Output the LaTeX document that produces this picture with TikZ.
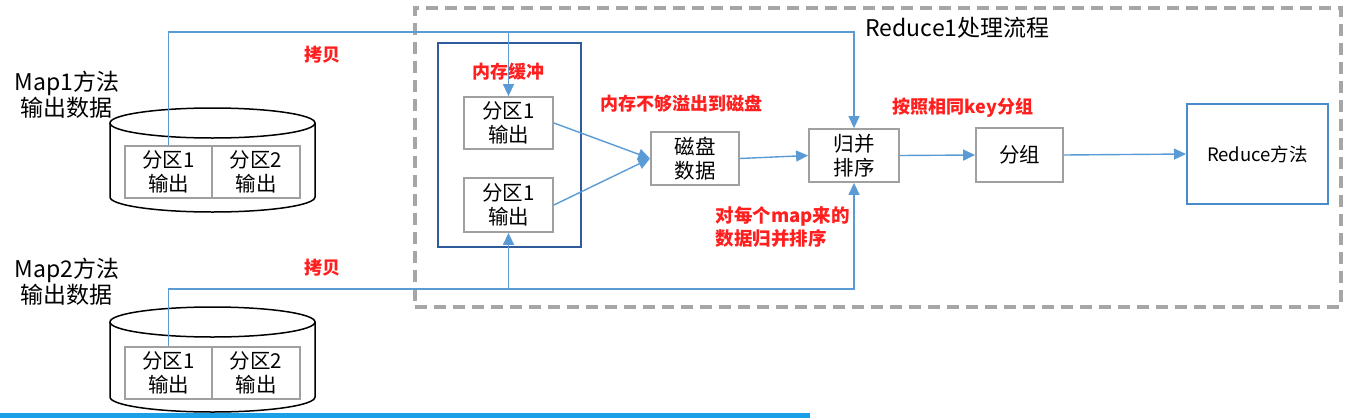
\documentclass[tikz,border=0pt]{standalone}
\usepackage{fontspec}
\setmainfont{Noto Sans CJK SC}
\usetikzlibrary{arrows.meta}
\definecolor{lineblue}{HTML}{5B9BD5}
\definecolor{boxgray}{HTML}{A0A0A0}
\definecolor{dashgray}{HTML}{A6A6A6}
\definecolor{memblue}{HTML}{2F5B9C}
\definecolor{redtxt}{HTML}{FF1F1F}
\definecolor{redblue}{HTML}{4A8BCB}
\definecolor{barblue}{HTML}{1A9FE8}
\begin{document}
\begin{tikzpicture}[x=1pt,y=-1pt,
  gbox/.style={draw=boxgray, line width=1.8pt, fill=white, inner sep=0pt, align=center,
    font=\fontsize{20.5}{24}\selectfont},
  bl/.style={draw=lineblue, line width=1.4pt},
  arr/.style={bl, -{Triangle[length=12pt,width=11pt]}},
  redlbl/.style={text=redtxt, font=\bfseries\fontsize{18}{22}\selectfont, align=left},
  maplbl/.style={align=center, font=\fontsize{23}{26}\selectfont},
  cyl/.style={draw=black, line width=1.5pt, fill=white}]
\useasboundingbox (0,0) rectangle (1346,418);

% Reduce dashed frame
\node[draw=dashgray, line width=3.5pt, dash pattern=on 12pt off 7pt, minimum width=926pt, minimum height=299pt, inner sep=0pt] (frame) at (878,157.5) {};
\node[anchor=west, font=\fontsize{23}{26}\selectfont] (title) at (862,28) {Reduce1处理流程};

% Cylinder 1
\draw[cyl] (110,123) -- (110,197) arc[start angle=180,end angle=360,x radius=102.5pt,y radius=15pt] -- (315,123);
\draw[cyl] (212.5,123) ellipse[x radius=102.5pt, y radius=15pt];
\node[gbox, minimum width=87pt, minimum height=52pt] (p11) at (168.5,172) {分区1\\输出};
\node[gbox, minimum width=88pt, minimum height=52pt] (p12) at (256,172) {分区2\\输出};
\node[maplbl] (m1) at (67,95) {Map1方法\\输出数据};

% Cylinder 2
\draw[cyl] (110,322) -- (110,397) arc[start angle=180,end angle=360,x radius=102.5pt,y radius=15pt] -- (315,322);
\draw[cyl] (212.5,322) ellipse[x radius=102.5pt, y radius=15pt];
\node[gbox, minimum width=87pt, minimum height=52pt] (q11) at (168.5,373) {分区1\\输出};
\node[gbox, minimum width=88pt, minimum height=52pt] (q12) at (256,373) {分区2\\输出};
\node[maplbl] (m2) at (67,282) {Map2方法\\输出数据};

% Memory buffer
\node[draw=memblue, line width=2pt, minimum width=143pt, minimum height=204pt, inner sep=0pt] (mem) at (509.5,145) {};
\node[redlbl] (memlbl) at (508,72) {内存缓冲};
\node[gbox, minimum width=89pt, minimum height=52pt] (b1) at (508.5,123) {分区1\\输出};
\node[gbox, minimum width=89pt, minimum height=54pt] (b2) at (508.5,205) {分区1\\输出};

% Process boxes
\node[gbox, minimum width=88pt, minimum height=53pt] (disk) at (695,158.5) {磁盘\\数据};
\node[gbox, minimum width=90pt, minimum height=53pt] (merge) at (854,155.5) {归并\\排序};
\node[gbox, minimum width=87pt, minimum height=54pt] (group) at (1019.5,155) {分组};
\node[draw=redblue, line width=2pt, fill=white, minimum width=141pt, minimum height=100pt, inner sep=0pt, font=\fontsize{18.5}{22}\selectfont] (reduce) at (1257.5,154) {Reduce方法};

% Red labels
\node[redlbl] (copy1) at (322,55) {拷贝};
\node[redlbl] (copy2) at (322,268) {拷贝};
\node[redlbl] (spill) at (681,104) {内存不够溢出到磁盘};
\node[redlbl] (bykey) at (963,108) {按照相同key分组};
\node[redlbl, anchor=west, font=\bfseries\fontsize{18.5}{23}\selectfont] (permap) at (712,227) {对每个map来的\\数据归并排序};

% Copy lines
\coordinate (topy) at (0,32);
\coordinate (boty) at (0,289);
\draw[arr] (p11.north) -- (p11.north |- topy) -- (merge.north |- topy) -- (merge.north);
\draw[arr] (b1.north |- topy) -- (b1.north);
\draw[arr] (q11.north) -- (q11.north |- boty) -- (merge.south |- boty) -- (merge.south);
\draw[arr] (b2.south |- boty) -- (b2.south);

% Flow arrows
\draw[arr] (b1.east) -- (disk.west);
\draw[arr] (b2.east) -- (disk.west);
\draw[arr] (disk.east) -- (merge.west);
\draw[arr] (merge.east) -- (group.west);
\draw[arr] (group.east) -- (reduce.west);

% bottom bar
\fill[barblue] (0,413) rectangle (810,418);
\end{tikzpicture}
\end{document}
